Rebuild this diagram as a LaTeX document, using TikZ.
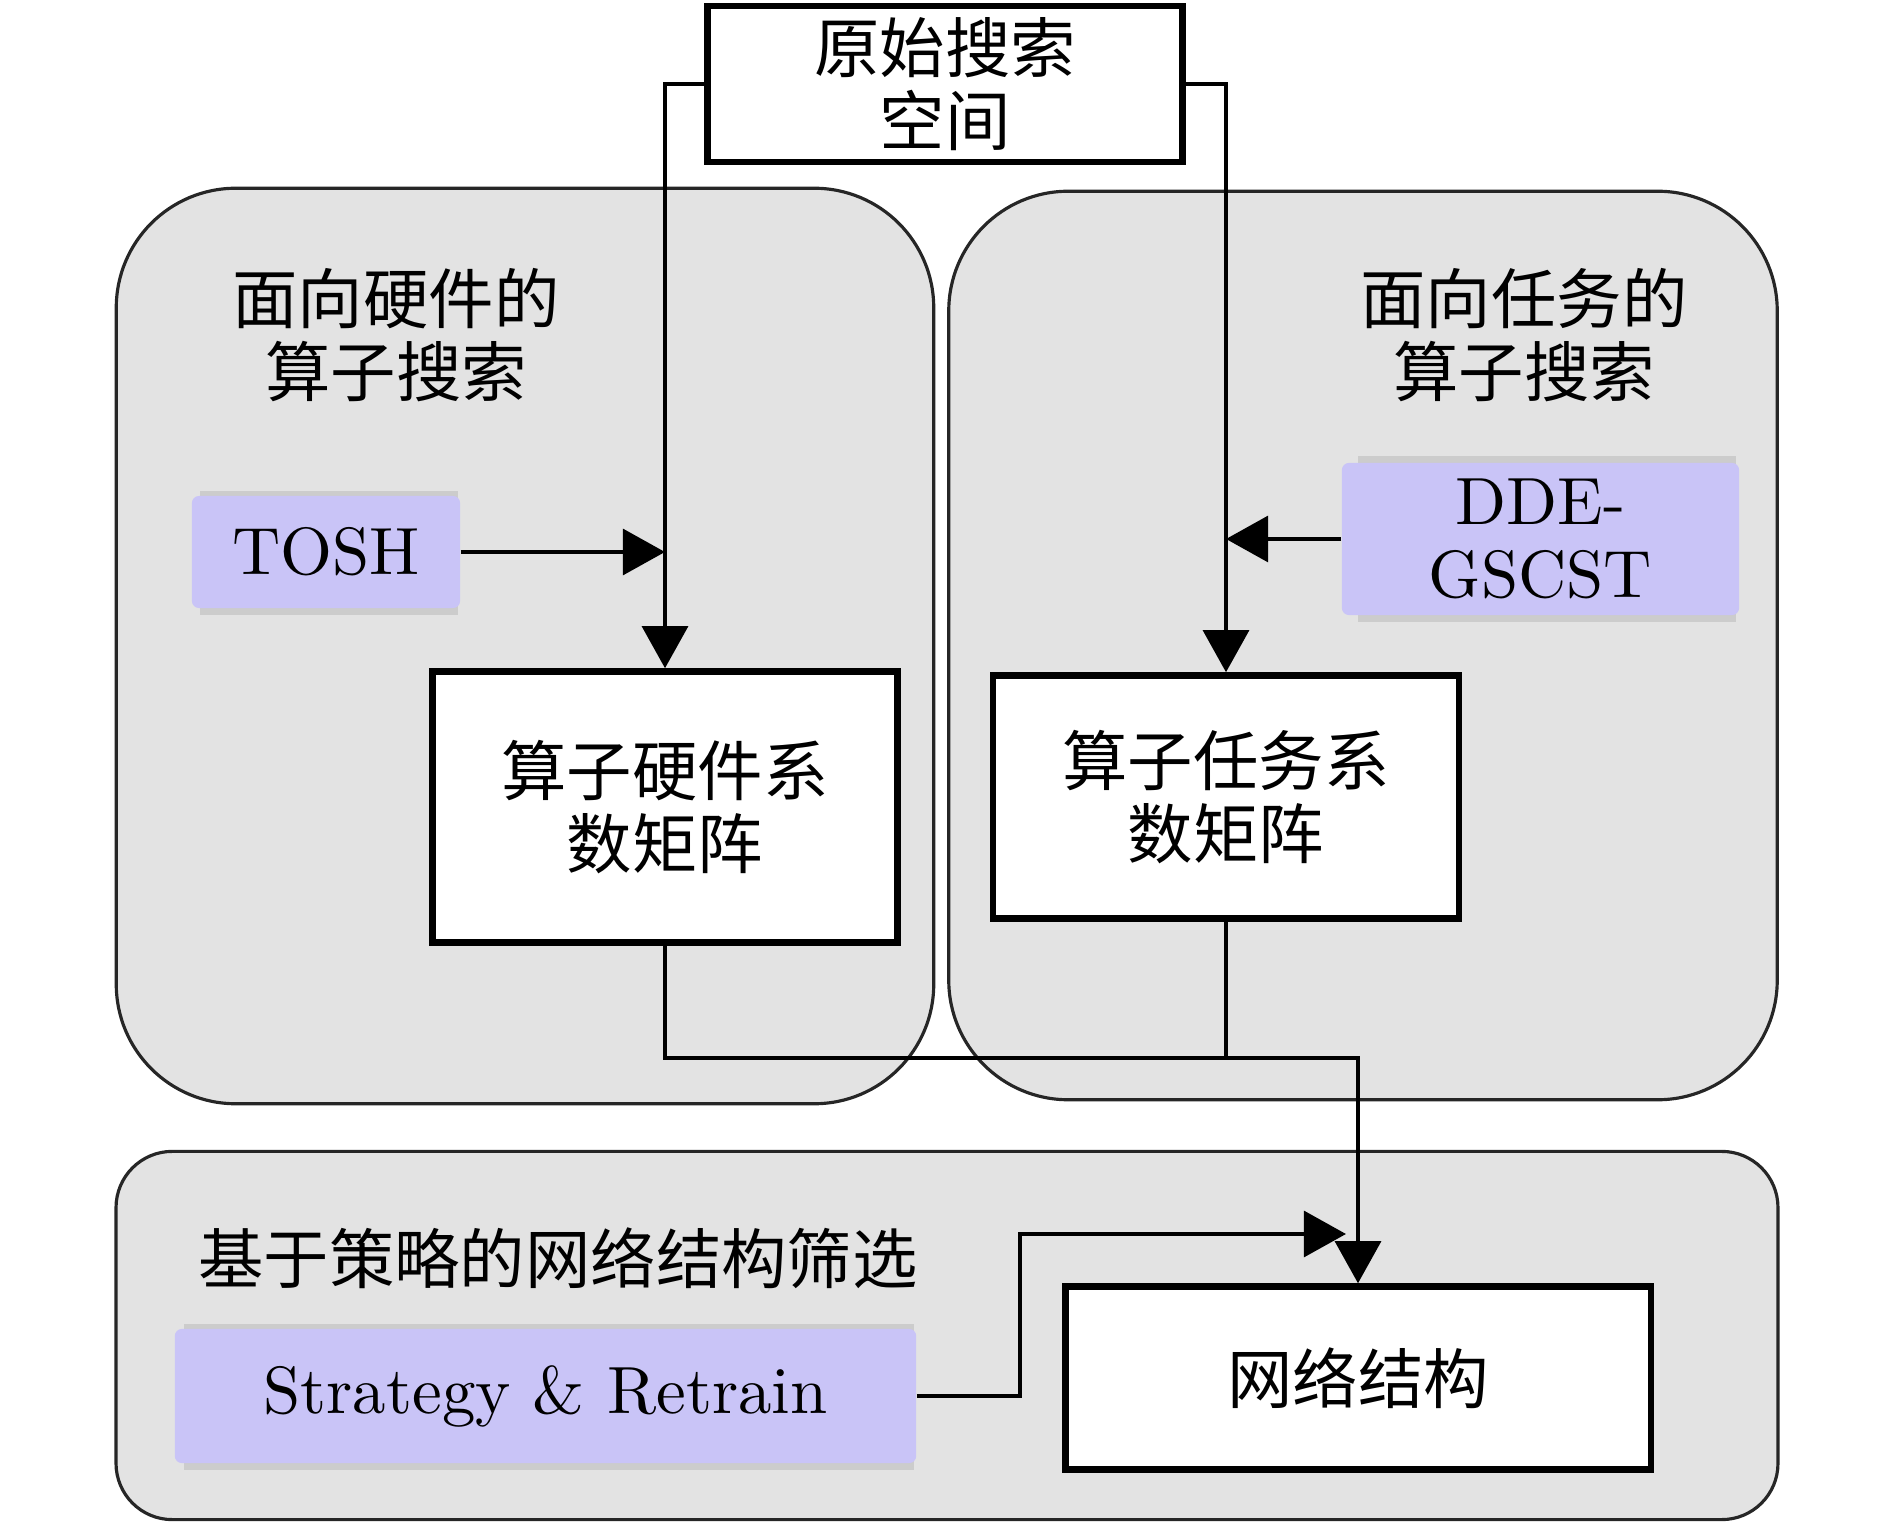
\documentclass[tikz,border=0pt]{standalone}
\usepackage{fontspec}
\newfontfamily\cjk{Noto Sans CJK SC}
\newfontfamily\lmten{lmroman10-regular}[Extension=.otf]
\usetikzlibrary{arrows.meta}
\definecolor{grpgray}{RGB}{227,227,227}
\definecolor{lav}{RGB}{201,196,247}
\definecolor{shd}{RGB}{204,204,204}
\begin{document}
\begin{tikzpicture}[x=0.01cm,y=-0.01cm,
  group/.style={draw=black!85, line width=0.9pt, fill=grpgray, inner sep=0pt},
  mbox/.style={draw, line width=1.8pt, fill=white, inner sep=0pt, align=center,
    font=\cjk\fontsize{18.6}{20.7}\selectfont},
  pbox/.style={fill=lav, inner sep=0pt, align=center, rounded corners=2pt,
    font=\lmten\fontsize{19}{20.7}\selectfont},
  lab/.style={align=center, inner sep=0pt, font=\cjk\fontsize{18.6}{20.7}\selectfont},
  conn/.style={line width=1.3pt, -{Triangle[length=12pt,width=13pt]}},
  plain/.style={line width=1.3pt}
]
\useasboundingbox (0,0) rectangle (1890,1525);

% group containers
\node[group, rounded corners=34pt, minimum width=8.17cm, minimum height=9.15cm] (grpL) at (525,646) {};
\node[group, rounded corners=34pt, minimum width=8.28cm, minimum height=9.08cm] (grpR) at (1363,645.5) {};
\node[group, rounded corners=16pt, minimum width=16.61cm, minimum height=3.68cm] (grpB) at (947,1335.5) {};

% group labels
\node[lab] (labL) at (396,335) {面向硬件的\\算子搜索};
\node[lab] (labR) at (1524,335) {面向任务的\\算子搜索};
\node[lab] (labB) at (558,1258) {基于策略的网络结构筛选};

% shadows of the purple boxes
\fill[shd] (200,491) rectangle (458,615);
\fill[shd] (1358,456) rectangle (1736,622);
\fill[shd] (184,1324) rectangle (914,1470);

% purple boxes
\node[pbox, minimum width=2.68cm, minimum height=1.12cm] (tosh) at (326,552) {TOSH};
\node[pbox, minimum width=3.97cm, minimum height=1.52cm] (dde) at (1540.5,539) {DDE-\\GSCST};
\node[pbox, minimum width=7.41cm, minimum height=1.34cm] (strat) at (545.5,1396) {Strategy \& Retrain};

% white boxes
\node[mbox, minimum width=4.75cm, minimum height=1.56cm] (top) at (945,84) {原始搜索\\空间};
\node[mbox, minimum width=4.65cm, minimum height=2.71cm] (lm) at (665,807) {算子硬件系\\数矩阵};
\node[mbox, minimum width=4.66cm, minimum height=2.43cm] (rm) at (1226,797) {算子任务系\\数矩阵};
\node[mbox, minimum width=5.85cm, minimum height=1.83cm] (net) at (1358,1378) {网络结构};

% connectors
\draw[conn] (top.west) -| (lm.north);
\draw[conn] (top.east) -| (rm.north);
\draw[conn] (tosh.east) -- (tosh.east -| lm.north);
\draw[conn] (dde.west) -- (dde.west -| rm.north);
\coordinate (join) at (1226,1058);
\draw[plain] (rm.south) -- (join);
\draw[conn] (lm.south) |- (join) -| (net.north);
\coordinate (bend) at (1020,1234);
\coordinate (sa) at (1346,1234);
\draw[conn] (strat.east) -| (bend) -- (sa);
\end{tikzpicture}
\end{document}
